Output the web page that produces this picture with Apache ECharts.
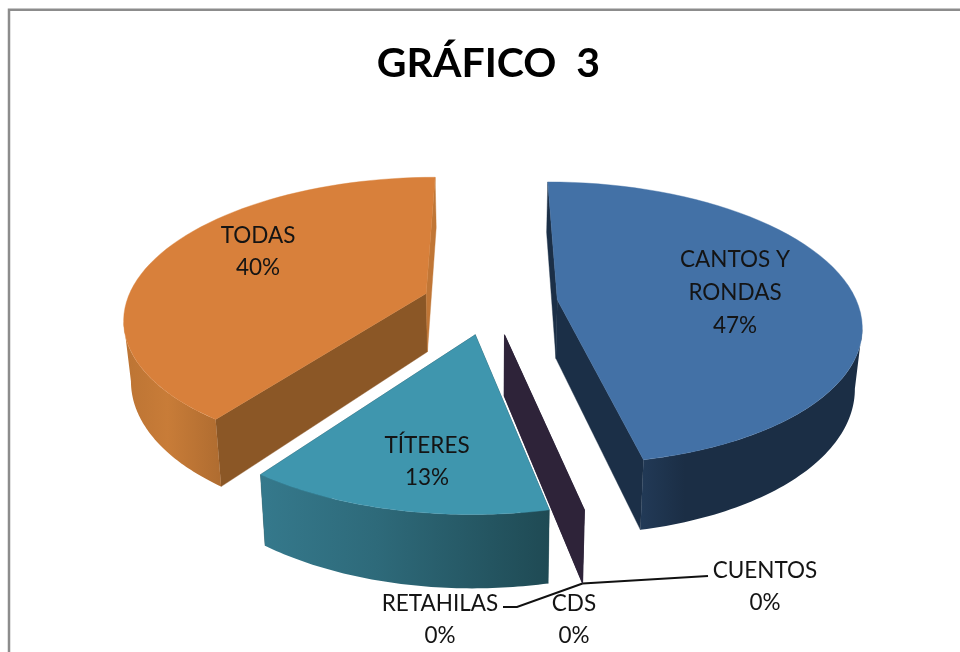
<!DOCTYPE html>
<html><head><meta charset="utf-8">
<style>html,body{margin:0;padding:0;background:#fff}#c{width:960px;height:652px}</style>
<script src="https://cdn.jsdelivr.net/npm/echarts@6/dist/echarts.min.js"></script>
</head><body><div id="c"></div>
<script>
// Data, clockwise from 12 o'clock
const categories = ['CANTOS Y RONDAS','CUENTOS','CDS','RETAHILAS','TÍTERES','TODAS'];
const values = [46.7, 0, 0, 0, 13.3, 40];
const titleText = 'GRÁFICO  3';

// Colours
const topColors  = ['#4371A6','#2E2339','#2E2339','#2E2339','#3F96AE','#D8803B'];
const cutColors  = ['#1B2F47','#2E2339','#2E2339','#2E2339','#1F4A54','#8B5726'];
const endColors  = ['#1B2F47','#2E2339','#2E2339','#2E2339','#1F4A54','#C07636'];
const sideStops  = [
  ['#223A57','#1B2E45','#1B2E45'], null, null, null,
  ['#35798C','#2E6A7A','#1F4A54'],
  ['#BC7434','#C87C38','#AF6C30']
];
const sideMidStop = [0.2,0,0,0,0.4,0.45];

// Label layout
const labelLines = [['CANTOS Y','RONDAS','47%'],['CUENTOS','0%'],['CDS','0%'],['RETAHILAS','0%'],['TÍTERES','13%'],['TODAS','40%']];
const labelCentres = [[735,260],[765,571],[574,604],[440,604],[427,446],[258,236]];
const labelLineGap = [33,32,32,32,32,32];

// Camera / pie geometry
const cam = {cx:490, yv:-535, A:838, q:0.165, R:300, E:67.9, h:59, taper:0.98};
const rad = d => d*Math.PI/180;

function project(ox, oy, theta, r, down){
  const X = ox + Math.sin(rad(theta))*r;          // in units of R
  const Y = oy - Math.cos(rad(theta))*r;
  const k = 1/(1 - cam.q*Y);
  let x = cam.cx + X*cam.R*k;
  let y = cam.yv + cam.A*k;
  if(down){ x = cam.cx + (x-cam.cx)*cam.taper; y += cam.h*k; }
  return [x,y];
}

const total = values.reduce((a,b)=>a+b,0);
const starts = []; values.reduce((a,v,i)=>{starts[i]=a;return a+v*360/total;},0);

function renderSlice(params){
  const i = params.dataIndex, v = values[i];
  const a0 = starts[i], a1 = a0 + v*360/total, mid = (a0+a1)/2;
  const e = cam.E/cam.R;
  const ox = Math.sin(rad(mid))*e, oy = -Math.cos(rad(mid))*e;
  const P = (t,r,d)=>project(ox,oy,t,r,d);
  const kids = [];
  const poly = (pts,fill)=>kids.push({type:'polygon',shape:{points:pts},style:{fill:fill,stroke:fill,lineWidth:0.4}});

  // cut faces
  poly([P(a0,0,false),P(a0,1,false),P(a0,1,true),P(a0,0,true)], cutColors[i]);
  if(v>0){
    poly([P(a1,0,false),P(a1,1,false),P(a1,1,true),P(a1,0,true)], endColors[i]);
    // the part of the rim that faces the viewer runs between the circle's left and right extremes
    let tR=0, tL=0, xR=-1e9, xL=1e9;
    for(let t=0;t<360;t+=0.5){ const x=P(t,1,false)[0]; if(x>xR){xR=x;tR=t;} if(x<xL){xL=x;tL=t;} }
    const b0=Math.max(a0,tR), b1=Math.min(a1,tL);
    const n=60, front=[], under=[], rim=[];
    for(let j=0;j<=n;j++){
      const t=b0+(b1-b0)*j/n; front.push(P(t,1,false)); under.unshift(P(t,1,true));
      rim.push(P(a0+(a1-a0)*j/n,1,false));
    }
    const xs=front.concat(under).map(p=>p[0]);
    const xMin=Math.min.apply(null,xs), xMax=Math.max.apply(null,xs);
    const st=sideStops[i];
    kids.push({type:'polygon',shape:{points:front.concat(under)},style:{
      fill:{type:'linear',x:xMin,y:0,x2:xMax,y2:0,global:true,colorStops:[
        {offset:0,color:st[0]},{offset:sideMidStop[i],color:st[1]},{offset:1,color:st[2]}]}}});
    poly([P(a0,0,false)].concat(rim),topColors[i]);
  }
  // leader lines
  const tip = P(a1,1,true);
  if(categories[i]==='CUENTOS') kids.push({type:'polyline',shape:{points:[tip,[708,576]]},style:{fill:null,stroke:'#111',lineWidth:2}});
  if(categories[i]==='RETAHILAS') kids.push({type:'polyline',shape:{points:[tip,[517,607],[503,607]]},style:{fill:null,stroke:'#111',lineWidth:2}});
  // labels
  labelLines[i].forEach((s,l)=>kids.push({type:'text',x:labelCentres[i][0],y:labelCentres[i][1]+l*labelLineGap[i],z2:50,
    style:{text:s,fontFamily:'Lato',fontSize:22.5,fill:'#141414',align:'center',verticalAlign:'middle'}}));
  return {type:'group',children:kids};
}

const chart = echarts.init(document.getElementById('c'),null,{renderer:'canvas'});
chart.setOption({
  animation:false,
  backgroundColor:'#fff',
  title:{text:titleText,left:483.5,top:38,textAlign:'center',
    textStyle:{fontFamily:'Lato',fontWeight:'bold',fontSize:41,color:'#000'}},
  graphic:[{type:'polyline',shape:{points:[[9,652],[9,9.7],[960,9.7]]},style:{fill:null,stroke:'#8C8C8C',lineWidth:2.5}}],
  series:[{type:'custom',coordinateSystem:'none',renderItem:renderSlice,
    data:categories.map((c,i)=>({name:c,value:values[i]}))}]
});
</script></body></html>
